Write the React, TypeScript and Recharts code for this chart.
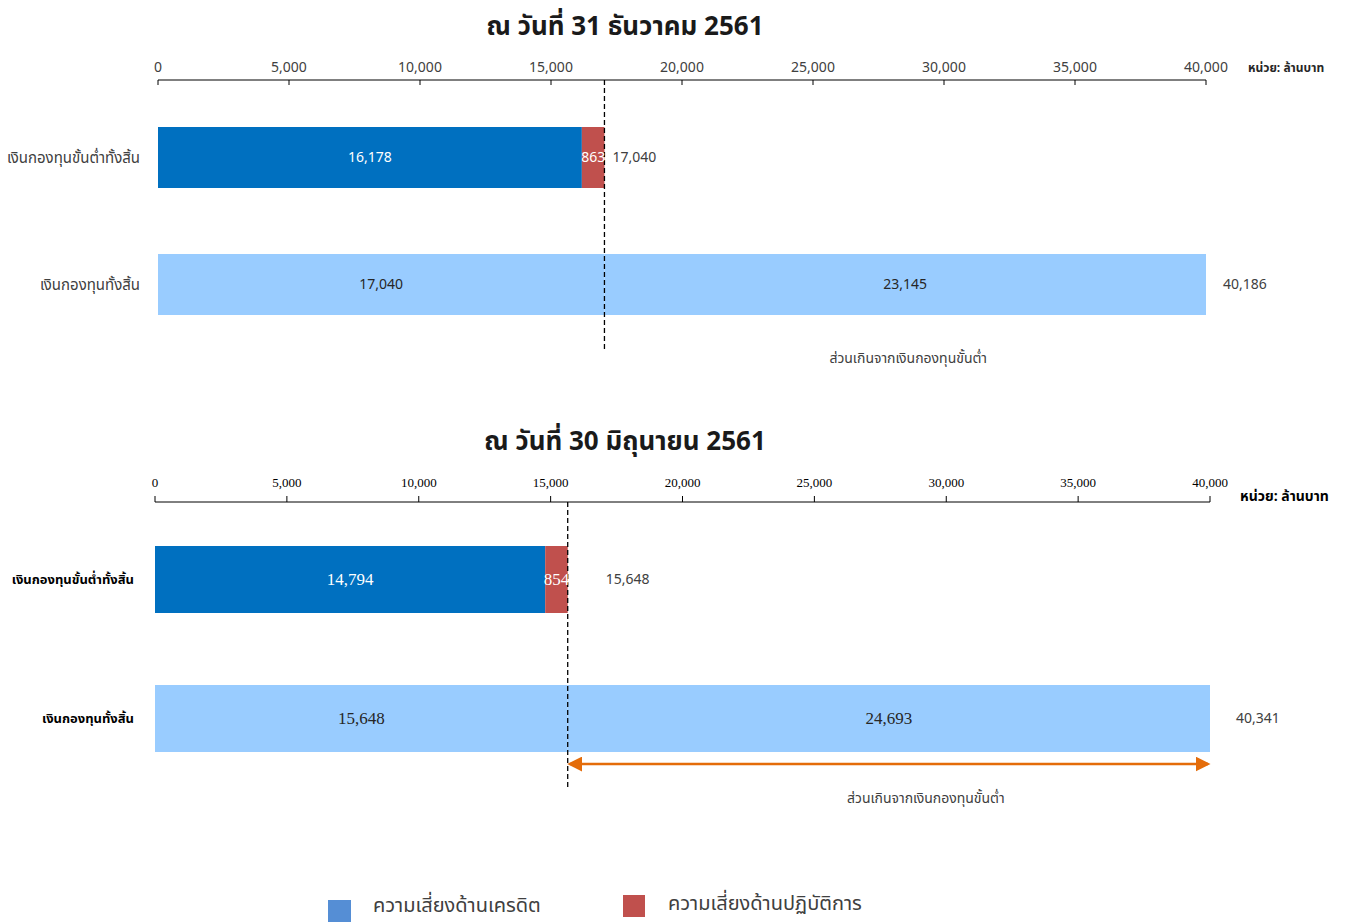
import { BarChart, Bar, XAxis, YAxis, Cell, LabelList, ReferenceLine, ReferenceArea } from "recharts";

// categories and tick labels
const categories = ["เงินกองทุนขั้นต่ำทั้งสิ้น", "เงินกองทุนทั้งสิ้น"];
const xTicks = [0, 5000, 10000, 15000, 20000, 25000, 30000, 35000, 40000];
const legendNames = ["ความเสี่ยงด้านเครดิต", "ความเสี่ยงด้านปฏิบัติการ"];
const excessLabel = "ส่วนเกินจากเงินกองทุนขั้นต่ำ";
const unitLabel = "หน่วย: ล้านบาท";

// ณ วันที่ 31 ธันวาคม 2561
const decFirst = [16178, 17040];
const decSecond = [863, 23145];
const decTotal = [17040, 40186];

// ณ วันที่ 30 มิถุนายน 2561
const junFirst = [14794, 15648];
const junSecond = [854, 24693];
const junTotal = [15648, 40341];

const firstColors = ["#0070C0", "#99CCFF"];
const secondColors = ["#C0504D", "#99CCFF"];
const innerText = ["#ffffff", "#262626"];
const SANS = "Tahoma, 'Noto Sans Thai', 'Noto Sans', 'DejaVu Sans', sans-serif";
const SERIF = "'Liberation Serif', 'Times New Roman', 'Noto Serif Thai', serif";
const xMax = xTicks[xTicks.length - 1];

const fmt = (v: number) => v.toLocaleString("en-US");

const buildRows = (first: number[], second: number[], total: number[]) =>
    categories.map((name, i) => ({ name, first: first[i], second: second[i], total: total[i] }));

type PanelProps = {
    id: string;
    top: number;
    height: number;
    marginTop: number;
    marginLeft: number;
    marginRight: number;
    first: number[];
    second: number[];
    total: number[];
    barSize: number;
    padTop: number;
    tickFont: string;
    tickSize: number;
    tickColor: string;
    tickDown: boolean;
    tickDy: number;
    catStyle: any;
    catMargin: number;
    innerFont: string;
    innerSize: number;
    totalOffsets: number[];
    arrow: boolean;
    textShift: number;
};

function Panel(p: PanelProps) {
    const rows = buildRows(p.first, p.second, p.total);

    const inside = (props: any) => {
        const { x, y, width, height, value, index } = props;
        return (
            <text x={x + width / 2} y={y + height / 2} textAnchor="middle" dominantBaseline="central"
                fill={innerText[index]} fontFamily={p.innerFont} fontSize={p.innerSize}>
                {fmt(value)}
            </text>
        );
    };

    const totalLabel = (props: any) => {
        const { x, y, width, height, value, index } = props;
        return (
            <text x={x + width + p.totalOffsets[index]} y={y + height / 2} textAnchor="start" dominantBaseline="central"
                fill="#404040" fontFamily={SANS} fontSize={14}>
                {fmt(value)}
            </text>
        );
    };

    const tick = (props: any) => {
        const { x, y, payload } = props;
        const axisY = y + 8;
        return (
            <g>
                <text x={x} y={y + p.tickDy} textAnchor="middle" fill={p.tickColor} fontFamily={p.tickFont} fontSize={p.tickSize}>
                    {fmt(payload.value)}
                </text>
                <line x1={x} x2={x} y1={axisY} y2={p.tickDown ? axisY + 5 : axisY - 6} stroke="#000" />
            </g>
        );
    };

    const excess = (props: any) => {
        const { x, y, width, height } = props;
        const bottom = y + height;
        const mid = x + width / 2;
        return (
            <g>
                {p.arrow && (
                    <g>
                        <defs>
                            <marker id={`head-${p.id}`} markerWidth="6" markerHeight="6" refX="5" refY="3" orient="auto-start-reverse" markerUnits="strokeWidth">
                                <path d="M0,0 L6,3 L0,6 z" fill="#E46C0A" />
                            </marker>
                        </defs>
                        <line x1={x + 2} x2={x + width - 2} y1={bottom - 24} y2={bottom - 24} stroke="#E46C0A" strokeWidth={2.5}
                            markerStart={`url(#head-${p.id})`} markerEnd={`url(#head-${p.id})`} />
                    </g>
                )}
                <text x={mid + p.textShift} y={bottom + 10} textAnchor="middle" dominantBaseline="central"
                    fill="#404040" fontFamily={SANS} fontSize={14}>
                    {excessLabel}
                </text>
            </g>
        );
    };

    return (
        <div style={{ position: "absolute", left: 0, top: p.top }}>
            <BarChart width={1355} height={p.height} data={rows} layout="vertical"
                margin={{ top: p.marginTop, right: p.marginRight, left: p.marginLeft, bottom: 30 }}>
                <XAxis type="number" orientation="top" domain={[0, xMax]} allowDataOverflow ticks={xTicks} height={30}
                    axisLine={{ stroke: "#000" }} tickLine={false} tickSize={6} tickMargin={2} tick={tick} />
                <YAxis type="category" dataKey="name" width={150} axisLine={false} tickLine={false}
                    tickSize={0} tickMargin={p.catMargin} padding={{ top: p.padTop, bottom: 2 }} tick={p.catStyle} />
                <Bar dataKey="first" stackId="a" barSize={p.barSize} isAnimationActive={false}>
                    {rows.map((r, i) => <Cell key={r.name} fill={firstColors[i]} />)}
                    <LabelList dataKey="first" content={inside} />
                </Bar>
                <Bar dataKey="second" stackId="a" barSize={p.barSize} isAnimationActive={false}>
                    {rows.map((r, i) => <Cell key={r.name} fill={secondColors[i]} />)}
                    <LabelList dataKey="second" content={inside} />
                    <LabelList dataKey="total" content={totalLabel} />
                </Bar>
                <ReferenceArea x1={p.total[0]} x2={xMax} ifOverflow="visible" shape={excess} />
                <ReferenceLine x={p.total[0]} stroke="#000" strokeWidth={1.3} strokeDasharray="5 3" />
            </BarChart>
        </div>
    );
}

export default function App() {
    return (
        <div style={{ position: "absolute", left: 0, top: 0, width: 1355, height: 922, background: "#fff", overflow: "hidden" }}>
            <div style={{ position: "absolute", left: 0, top: 10, width: 1250, textAlign: "center", fontFamily: SANS, fontWeight: "bold", fontSize: 26, color: "#1a1a1a", lineHeight: "34px" }}>
                ณ วันที่ 31 ธันวาคม 2561
            </div>
            <div style={{ position: "absolute", left: 1248, top: 59, fontFamily: SANS, fontWeight: "bold", fontSize: 12, color: "#262626" }}>
                {unitLabel}
            </div>
            <Panel id="dec" top={0} height={380} marginTop={50} marginLeft={8} marginRight={149}
                first={decFirst} second={decSecond} total={decTotal} barSize={61} padTop={14}
                tickFont={SANS} tickSize={14} tickColor="#404040" tickDown={true} tickDy={0}
                catStyle={{ fontFamily: SANS, fontSize: 15, fill: "#404040" }} catMargin={18}
                innerFont={SANS} innerSize={14} totalOffsets={[8, 17]} arrow={false} textShift={3} />

            <div style={{ position: "absolute", left: 0, top: 425, width: 1250, textAlign: "center", fontFamily: SANS, fontWeight: "bold", fontSize: 26, color: "#1a1a1a", lineHeight: "34px" }}>
                ณ วันที่ 30 มิถุนายน 2561
            </div>
            <div style={{ position: "absolute", left: 1240, top: 486, fontFamily: SANS, fontWeight: "bold", fontSize: 14, color: "#000" }}>
                {unitLabel}
            </div>
            <Panel id="jun" top={400} height={420} marginTop={72} marginLeft={5} marginRight={145}
                first={junFirst} second={junSecond} total={junTotal} barSize={67} padTop={8}
                tickFont={SERIF} tickSize={13} tickColor="#000" tickDown={false} tickDy={-7}
                catStyle={{ fontFamily: SANS, fontSize: 13, fontWeight: "bold", fill: "#000" }} catMargin={21}
                innerFont={SERIF} innerSize={17} totalOffsets={[38, 26]} arrow={true} textShift={37} />

            <div style={{ position: "absolute", left: 328, top: 900, width: 23, height: 22, background: "#558ED5" }} />
            <div style={{ position: "absolute", left: 373, top: 891, fontFamily: SANS, fontSize: 20, color: "#404040" }}>
                {legendNames[0]}
            </div>
            <div style={{ position: "absolute", left: 623, top: 895, width: 22, height: 22, background: "#C0504D" }} />
            <div style={{ position: "absolute", left: 668, top: 889, fontFamily: SANS, fontSize: 20, color: "#404040" }}>
                {legendNames[1]}
            </div>
        </div>
    );
}
